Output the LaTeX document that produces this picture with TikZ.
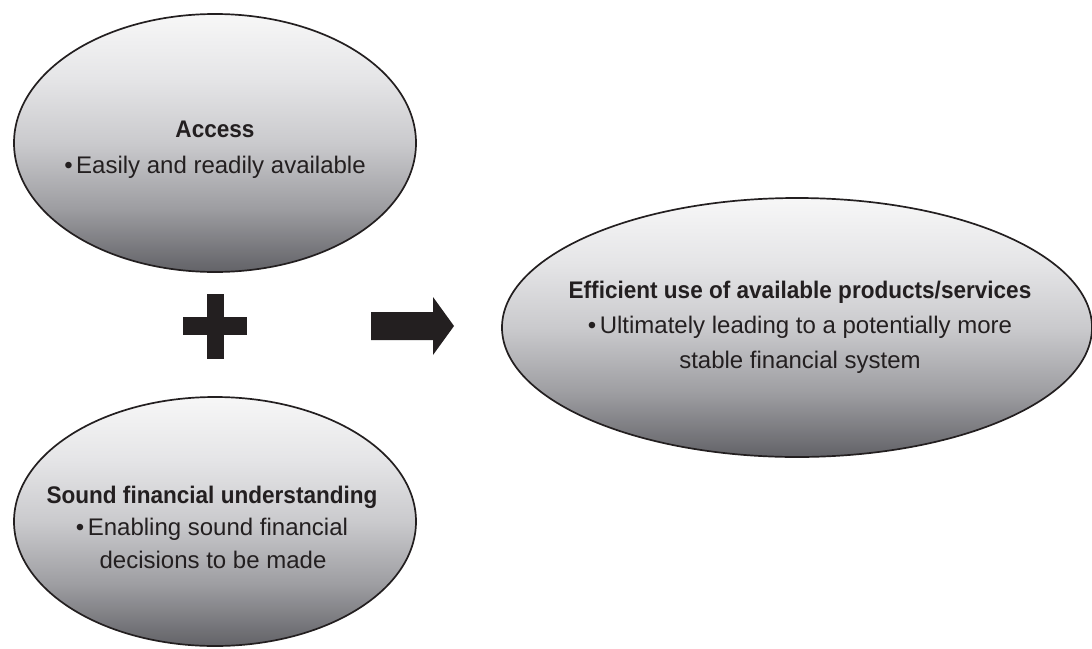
\documentclass[tikz,border=0pt]{standalone}
\usepackage{fontspec}
\setmainfont{Liberation Sans}[BoldFeatures={FakeStretch=0.94}]
\usetikzlibrary{shapes.geometric}
\definecolor{ink}{RGB}{35,31,32}
\definecolor{greyA}{RGB}{98,98,103}
\definecolor{greyB}{RGB}{158,158,162}
\definecolor{greyC}{RGB}{202,202,205}
\definecolor{greyD}{RGB}{229,229,231}
\definecolor{greyE}{RGB}{247,247,247}
% grey ramp of the ovals, light at the top and dark at the bottom
\pgfdeclareverticalshading{bubbleshade}{100bp}{%
  color(0bp)=(greyA);
  color(25bp)=(greyA);
  color(37.5bp)=(greyB);
  color(50bp)=(greyC);
  color(62.5bp)=(greyD);
  color(75bp)=(greyE);
  color(100bp)=(greyE)}
\tikzset{
  bubble/.style={ellipse, draw=ink, line width=1.7pt, inner sep=0pt,
    shading=bubbleshade},
  headline/.style={anchor=base, inner sep=0pt, text=ink,
    font=\fontsize{24}{29}\selectfont\bfseries},
  bodyline/.style={anchor=base, inner sep=0pt, text=ink,
    font=\fontsize{24}{29}\selectfont},
  glyph/.style={fill=ink, draw=none}
}
\newcommand{\bul}{\textbullet\hspace{3.5pt}}
\begin{document}
\begin{tikzpicture}[x=1pt,y=-1pt]
  \useasboundingbox (0,0) rectangle (1092,648);
  \clip (0,0) rectangle (1092,648);

  % input ovals
  \node[bubble, minimum width=402pt, minimum height=258pt] (access) at (215,143) {};
  \node[headline] (accesshead) at (215,137) {Access};
  \node[bodyline] (accessbody) at (215,173) {\bul Easily and readily available};

  \node[bubble, minimum width=402pt, minimum height=249pt] (sound) at (215,521.5) {};
  \node[headline] (soundhead) at (212,503) {Sound financial understanding};
  \node[bodyline] (soundbodya) at (212,535.5) {\bul Enabling sound financial};
  \node[bodyline] (soundbodyb) at (213,568) {decisions to be made};

  % outcome oval
  \node[bubble, minimum width=590pt, minimum height=259pt] (outcome) at (797,327.5) {};
  \node[headline] (outcomehead) at (800,298) {Efficient use of available products/services};
  \node[bodyline] (outcomebodya) at (800,333) {\bul Ultimately leading to a potentially more};
  \node[bodyline] (outcomebodyb) at (800,368) {stable financial system};

  % plus sign
  \fill[glyph] (207,294) rectangle (224,359);
  \fill[glyph] (183,317) rectangle (247,335);

  % block arrow
  \fill[glyph] (371,312) -- (433,312) -- (433,297) -- (454,326)
    -- (433,355) -- (433,340) -- (371,340) -- cycle;
\end{tikzpicture}
\end{document}
